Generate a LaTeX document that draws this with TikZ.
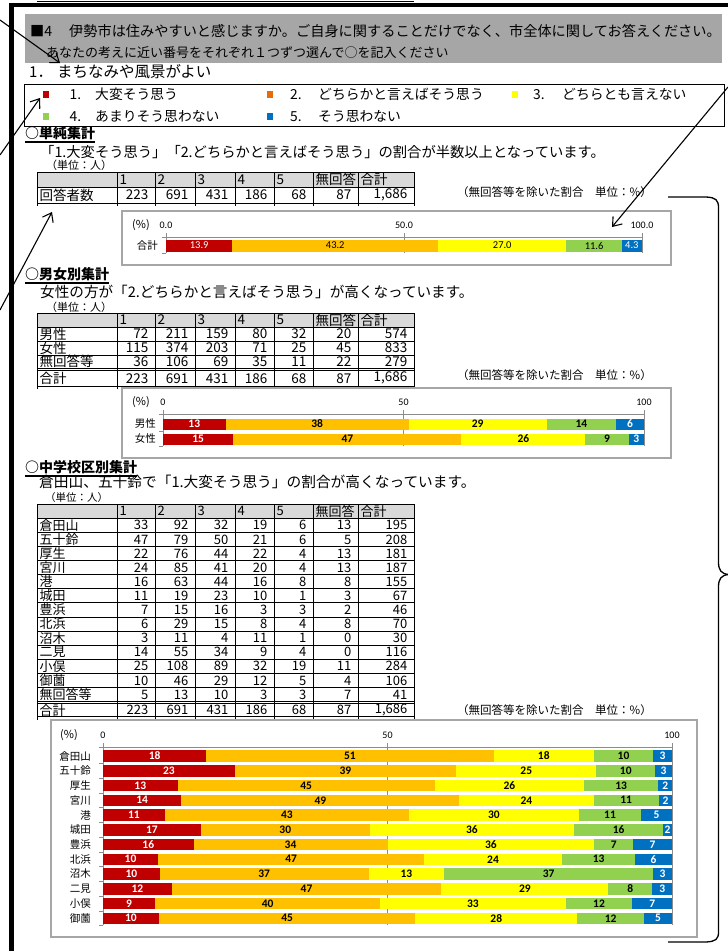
\documentclass[tikz,border=0pt]{standalone}
\usepackage{fontspec}
\setmainfont{Noto Sans CJK JP}
\newfontfamily\numfont{Carlito}
\usetikzlibrary{arrows.meta}
\definecolor{cRed}{HTML}{C00000}
\definecolor{cOra}{HTML}{FFC000}
\definecolor{cYel}{HTML}{FFFF00}
\definecolor{cGrn}{HTML}{92D050}
\definecolor{cBlu}{HTML}{0070C0}
\definecolor{lOra}{HTML}{E46C0A}
\definecolor{hdrGray}{HTML}{A6A6A6}
\definecolor{thGray}{HTML}{D9D9D9}
\definecolor{boxGray}{HTML}{A6A6A6}
\definecolor{axGray}{HTML}{8C8C8C}
\newcommand\fsz[1]{\fontsize{#1}{#1}\selectfont}
\newcommand\barfont{\numfont\fsz{10.5}}
\newcommand\cellfont{\fsz{13.5}}
\newcommand\mycum{0}
\newcommand\mkbar[5]{%
  \gdef\mycum{0}%
  \foreach \pp/\lb [count=\i] in {#5} {%
    \pgfmathsetmacro\xa{#1+#2*\mycum}%
    \pgfmathsetmacro\xb{#1+#2*(\mycum+\pp)}%
    \fill[seg\i] (\xa,#3-#4) rectangle (\xb,#3+#4);%
    \node[lab\i] at ({(\xa+\xb)/2},#3) {\lb};%
    \pgfmathsetmacro\newcum{\mycum+\pp}%
    \global\let\mycum\newcum
  }%
}
\newcommand\tgrid[4]{%
  \fill[thGray] (37,#1) rectangle (414,#2);
  \foreach \yy in {#1,#2,#4,#3} \draw[tline] (37,\yy) -- (414,\yy);
  \foreach \xx in {37,117,155,195,235,274,313,358,414} \draw[tline] (\xx,#1) -- (\xx,#3+3);
  \foreach \hd/\xl in {1/117,2/155,3/195,4/235,5/274,無回答/313,合計/358}
    \node[t,font=\cellfont] at (\xl+2.5,{(#1+#2)/2}) {\hd};
}
\newcommand\trow[4]{%
  \node[t,font=\cellfont] at (39.5,{(#1+#2)/2}) {#3};
  \foreach \vv [count=\j from 0] in {#4} {%
    \pgfmathsetmacro\xr{{155,195,235,274,313,358,414}[\j]}%
    \node[tr,font=\cellfont] at (\xr-6.5,{(#1+#2)/2}) {\vv};
  }%
}
\begin{document}
\begin{tikzpicture}[x=1pt,y=-1pt,
  t/.style={inner sep=0pt,anchor=west},
  tr/.style={inner sep=0pt,anchor=east},
  tline/.style={line width=0.9pt,black},
  grid/.style={line width=0.7pt,draw=axGray},
  cbox/.style={line width=1.3pt,draw=boxGray},
  arr/.style={line width=1.1pt,-{Straight Barb[length=8pt,width=12pt]}},
  brace/.style={line width=1.3pt},
  uline/.style={line width=1.1pt,draw=black},
  frame/.style={line width=4.5pt,draw=black},
  seg1/.style={fill=cRed}, seg2/.style={fill=cOra}, seg3/.style={fill=cYel},
  seg4/.style={fill=cGrn}, seg5/.style={fill=cBlu},
  barlab/.style={inner sep=0pt,font=\barfont},
  lab1/.style={barlab,text=white}, lab2/.style={barlab}, lab3/.style={barlab},
  lab4/.style={barlab}, lab5/.style={barlab,text=white},
  cat/.style={inner sep=0pt,anchor=east,font=\fsz{10.5}},
  axl/.style={inner sep=0pt,font=\numfont\fsz{10}},
  lsq/.style={minimum width=6pt,minimum height=7pt,inner sep=0pt},
  legt/.style={inner sep=0pt,anchor=west,font=\fsz{13.8}},
  sec/.style={inner sep=0pt,anchor=west,font=\bfseries\fsz{14}},
  unit/.style={inner sep=0pt,anchor=west,font=\fsz{11}},
  note/.style={inner sep=0pt,anchor=west,font=\fsz{11.5}},
]
\useasboundingbox (0,0) rectangle (728,951);
\fill[white] (0,0) rectangle (728,951);
% frame
\coordinate (fr1) at (11.5,951);
\coordinate (fr2) at (11.5,5);
\coordinate (fr3) at (728,5);
\draw[frame] (fr1) -- (fr2) -- (fr3);
% header
\fill[hdrGray] (25,14) rectangle (722,63);
\node[t,font=\fsz{14.2}] (h1a) at (30,31) {■4};
\node[t,font=\fsz{14.2}] (h1b) at (69,31) {伊勢市は住みやすいと感じますか。ご自身に関することだけでなく、市全体に関してお答えください。};
\node[t,font=\fsz{13}] (h2) at (46,53) {あなたの考えに近い番号をそれぞれ１つずつ選んで○を記入ください};
\node[t,font=\fsz{15}] (q1a) at (29,72) {1．};
\node[t,font=\fsz{15.5}] (q1b) at (57,72) {まちなみや風景がよい};
% legend
\draw[line width=0.9pt] (24,84) rectangle (724,126);
\node[lsq,fill=cRed] (sq1) at (46,94.5) {};
\node[legt] (lg1a) at (69.5,94.5) {1.};
\node[legt] (lg1b) at (95,94.5) {大変そう思う};
\node[lsq,fill=lOra] (sq2) at (269.5,94.5) {};
\node[legt] (lg2a) at (290,94.5) {2.};
\node[legt] (lg2b) at (318,94.5) {どちらかと言えばそう思う};
\node[lsq,fill=cYel] (sq3) at (515,94.5) {};
\node[legt] (lg3a) at (533,94.5) {3.};
\node[legt] (lg3b) at (562,94.5) {どちらとも言えない};
\node[lsq,fill=cGrn] (sq4) at (46,116.5) {};
\node[legt] (lg4a) at (69.5,116.5) {4.};
\node[legt] (lg4b) at (95,116.5) {あまりそう思わない};
\node[lsq,fill=cBlu] (sq5) at (269.5,116.5) {};
\node[legt] (lg5a) at (290,116.5) {5.};
\node[legt] (lg5b) at (318,116.5) {そう思わない};

% ===== section 1
\node[sec] (s1) at (25,133) {○単純集計};
\draw[uline] (25,142) -- (s1.east |- 0,142);
\node[t,font=\fsz{14.3}] (d1) at (40,152) {「1.大変そう思う」「2.どちらかと言えばそう思う」の割合が半数以上となっています。};
\node[unit] (u1) at (46,165) {（単位：人）};
\node[note] (n1) at (457,192) {（無回答等を除いた割合　単位：\%）};
\tgrid{172}{187}{203}{}
\trow{187}{203}{回答者数}{223,691,431,186,68,87,{1,686}}
% chart 1
\draw[cbox] (122,211) rectangle (671,265);
\draw[grid] (166,237) -- (642,237);
\foreach \xx in {166,404,642} \draw[grid] (\xx,233) -- (\xx,253);
\draw[grid] (162,237) -- (166,237) (162,253) -- (166,253);
\node[t,font=\fsz{11}] (c1p) at (132,225) {(\%)};
\node[axl] (c1x0) at (166,225) {0.0};
\node[axl] (c1x1) at (404,225) {50.0};
\node[axl] (c1x2) at (642,225) {100.0};
\node[cat] (c1r) at (158,245.5) {合計};
\mkbar{166}{4.76}{245.5}{6}{13.946/13.9,43.214/43.2,26.954/27.0,11.632/11.6,4.254/4.3}

% ===== section 2
\node[sec] (s2) at (25,274) {○男女別集計};
\draw[uline] (25,283) -- (s2.east |- 0,283);
\node[t,font=\fsz{14.6}] (d2) at (40,292) {女性の方が「2.どちらかと言えばそう思う」が高くなっています。};
\node[unit] (u2) at (46,307) {（単位：人）};
\node[note] (n2) at (457,375) {（無回答等を除いた割合　単位：\%）};
\tgrid{313}{327}{386}{341,355,368.5,370.5}
\trow{327}{341}{男性}{72,211,159,80,32,20,574}
\trow{341}{355}{女性}{115,374,203,71,25,45,833}
\trow{355}{368.5}{無回答等}{36,106,69,35,11,22,279}
\trow{370.5}{386}{合計}{223,691,431,186,68,87,{1,686}}
% chart 2
\draw[cbox] (122,388) rectangle (671,458);
\draw[grid] (163,414) -- (644,414);
\foreach \xx in {163,403.5,644} \draw[grid] (\xx,410) -- (\xx,446);
\draw[grid] (159,414) -- (163,414) (159,431.5) -- (163,431.5) (159,446) -- (163,446);
\node[t,font=\fsz{11}] (c2p) at (132,402) {(\%)};
\node[axl] (c2x0) at (163,402) {0};
\node[axl] (c2x1) at (403.5,402) {50};
\node[axl] (c2x2) at (644,402) {100};
\node[cat] (c2r1) at (156,424) {男性};
\node[cat] (c2r2) at (156,439) {女性};
\renewcommand\barfont{\numfont\bfseries\fsz{11.5}}
\mkbar{163}{4.81}{424}{5.5}{12.996/13,38.087/38,28.700/29,14.440/14,5.777/6}
\mkbar{163}{4.81}{439}{5.5}{14.594/15,47.462/47,25.761/26,9.010/9,3.173/3}

% ===== section 3
\node[sec] (s3) at (25,467) {○中学校区別集計};
\draw[uline] (25,476) -- (s3.east |- 0,476);
\node[t,font=\fsz{14.7}] (d3) at (39,482) {倉田山、五十鈴で「1.大変そう思う」の割合が高くなっています。};
\node[t,font=\fsz{10.5}] (u3) at (45,498) {（単位：人）};
\node[note] (n3) at (457,710) {（無回答等を除いた割合　単位：\%）};
\renewcommand\cellfont{\fsz{13}}
\tgrid{504}{518.3}{716.7}{532.4,546.5,560.6,574.7,588.8,602.9,617,631.1,645.2,659.3,673.4,687.5,701.6,703.5}
\trow{518.3}{532.4}{倉田山}{33,92,32,19,6,13,195}
\trow{532.4}{546.5}{五十鈴}{47,79,50,21,6,5,208}
\trow{546.5}{560.6}{厚生}{22,76,44,22,4,13,181}
\trow{560.6}{574.7}{宮川}{24,85,41,20,4,13,187}
\trow{574.7}{588.8}{港}{16,63,44,16,8,8,155}
\trow{588.8}{602.9}{城田}{11,19,23,10,1,3,67}
\trow{602.9}{617}{豊浜}{7,15,16,3,3,2,46}
\trow{617}{631.1}{北浜}{6,29,15,8,4,8,70}
\trow{631.1}{645.2}{沼木}{3,11,4,11,1,0,30}
\trow{645.2}{659.3}{二見}{14,55,34,9,4,0,116}
\trow{659.3}{673.4}{小俣}{25,108,89,32,19,11,284}
\trow{673.4}{687.5}{御薗}{10,46,29,12,5,4,106}
\trow{687.5}{701.6}{無回答等}{5,13,10,3,3,7,41}
\trow{703.5}{716.7}{合計}{223,691,431,186,68,87,{1,686}}
% chart 3
\draw[cbox] (51,720) rectangle (697,937);
\draw[grid] (103,747) -- (672,747);
\foreach \xx in {103,387.5,672} \draw[grid] (\xx,743) -- (\xx,925);
\foreach \yy in {747,763.375,778.125,792.875,807.625,822.375,837.125,851.875,866.625,881.375,896.125,910.875,925}
  \draw[grid] (99,\yy) -- (103,\yy);
\node[t,font=\fsz{11}] (c3p) at (60,735) {(\%)};
\node[axl] (c3x0) at (103,735) {0};
\node[axl] (c3x1) at (387.5,735) {50};
\node[axl] (c3x2) at (672,735) {100};
\mkbar{103}{5.69}{756}{5.75}{18.132/18,50.549/51,17.582/18,10.440/10,3.297/3}
\mkbar{103}{5.69}{770.75}{5.75}{23.153/23,38.916/39,24.631/25,10.345/10,2.955/3}
\mkbar{103}{5.69}{785.5}{5.75}{13.095/13,45.238/45,26.190/26,13.095/13,2.382/2}
\mkbar{103}{5.69}{800.25}{5.75}{13.793/14,48.851/49,23.563/24,11.494/11,2.299/2}
\mkbar{103}{5.69}{815}{5.75}{10.884/11,42.857/43,29.932/30,10.884/11,5.443/5}
\mkbar{103}{5.69}{829.75}{5.75}{17.188/17,29.688/30,35.938/36,15.625/16,1.561/2}
\mkbar{103}{5.69}{844.5}{5.75}{15.909/16,34.091/34,36.364/36,6.818/7,6.818/7}
\mkbar{103}{5.69}{859.25}{5.75}{9.677/10,46.774/47,24.194/24,12.903/13,6.452/6}
\mkbar{103}{5.69}{874}{5.75}{10.000/10,36.667/37,13.333/13,36.667/37,3.333/3}
\mkbar{103}{5.69}{888.75}{5.75}{12.069/12,47.414/47,29.310/29,7.759/8,3.448/3}
\mkbar{103}{5.69}{903.5}{5.75}{9.158/9,39.560/40,32.601/33,11.722/12,6.959/7}
\mkbar{103}{5.69}{918.25}{5.75}{9.804/10,45.098/45,28.431/28,11.765/12,4.902/5}
\foreach \nm/\yy in {倉田山/756,五十鈴/770.75,厚生/785.5,宮川/800.25,港/815,城田/829.75,豊浜/844.5,北浜/859.25,沼木/874,二見/888.75,小俣/903.5,御薗/918.25}
  \node[cat] at (91,\yy) {\nm};

% arrows
\coordinate (a1s) at (0,20);   \coordinate (a1e) at (60,63);
\coordinate (a2s) at (0,155);  \coordinate (a2e) at (40,98);
\coordinate (a3s) at (0,310);  \coordinate (a3e) at (52,212);
\coordinate (a4s) at (728,87); \coordinate (a4e) at (612,227);
\draw[arr] (a1s) -- (a1e);
\draw[arr] (a2s) -- (a2e);
\draw[arr] (a3s) -- (a3e);
\draw[arr] (a4s) -- (a4e);
% brace
\coordinate (b1) at (668,197);
\coordinate (b2) at (729,574.5);
\coordinate (b3) at (668,942);
\draw[brace] (b1) -- (706,197) .. controls (716,197.5) and (718.5,200) .. (718.5,208) -- (718.5,562) .. controls (718.5,570) and (721,574) .. (b2);
\draw[brace] (b2) .. controls (721,575) and (718.5,579) .. (718.5,587) -- (718.5,932) .. controls (718.5,939) and (716,941.5) .. (706,942) -- (b3);
\end{tikzpicture}
\end{document}
